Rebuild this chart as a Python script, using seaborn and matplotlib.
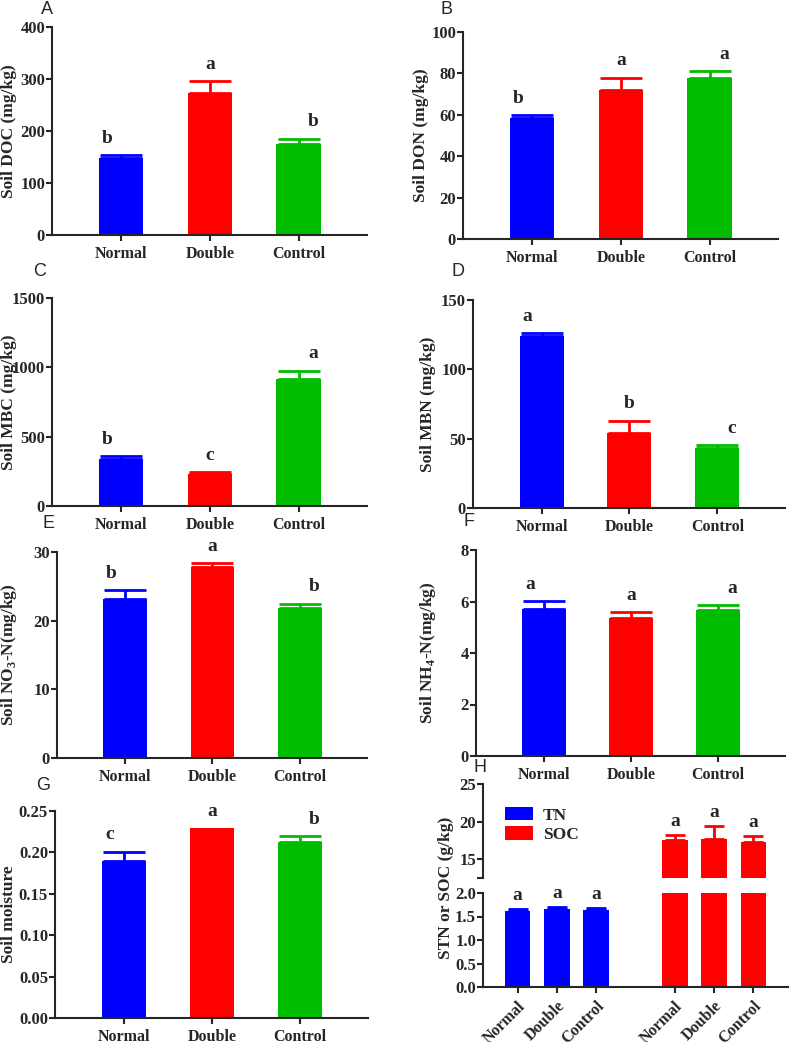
import seaborn as sns
import pandas as pd
import matplotlib.pyplot as plt
from matplotlib.ticker import FormatStrFormatter

# data (mean, upper error)
treatments = ["Normal", "Double", "Control"]
colors = ["#0000FF", "#FF0000", "#00BD00"]

doc_mean = [148, 273, 175]
doc_err = [5, 23, 10]
doc_letters = ["b", "a", "b"]

don_mean = [58.5, 72, 78]
don_err = [1.5, 6, 3]
don_letters = ["b", "a", "a"]

mbc_mean = [338, 229, 913]
mbc_err = [20, 13, 62]
mbc_letters = ["b", "c", "a"]

mbn_mean = [123.8, 54.2, 43.4]
mbn_err = [2.4, 8.9, 1.7]
mbn_letters = ["a", "b", "c"]

no3_mean = [23.2, 27.8, 21.8]
no3_err = [1.2, 0.55, 0.7]
no3_letters = ["b", "a", "b"]

nh4_mean = [5.70, 5.36, 5.66]
nh4_err = [0.32, 0.23, 0.19]
nh4_letters = ["a", "a", "a"]

moist_mean = [0.190, 0.2295, 0.213]
moist_err = [0.011, 0.0, 0.0065]
moist_letters = ["c", "a", "b"]

tn_mean = [1.62, 1.66, 1.64]
tn_err = [0.05, 0.05, 0.05]
soc_mean = [17.5, 17.7, 17.3]
soc_err = [0.7, 1.7, 0.75]
h_letters = ["a", "a", "a"]

sns.set_style("ticks")
plt.rcParams["font.family"] = ["Liberation Serif", "DejaVu Serif"]
plt.rcParams["font.weight"] = "bold"
plt.rcParams["axes.labelweight"] = "bold"
plt.rcParams["axes.linewidth"] = 1.5
plt.rcParams["xtick.major.width"] = 1.5
plt.rcParams["ytick.major.width"] = 1.5
plt.rcParams["xtick.major.size"] = 4
plt.rcParams["ytick.major.size"] = 4
plt.rcParams["ytick.major.pad"] = 1
plt.rcParams["xtick.major.pad"] = 4
plt.rcParams["xtick.labelsize"] = 11.5
plt.rcParams["ytick.labelsize"] = 12
plt.rcParams["mathtext.fontset"] = "custom"
plt.rcParams["mathtext.rm"] = "Liberation Serif:bold"

fig = plt.figure(figsize=(7.9, 10.42), dpi=100)
W, H = 790, 1042


def rect(l, t, r, b):
    return [l / W, 1 - b / H, (r - l) / W, (b - t) / H]


letter_dx = [-0.16, 0, 0.16]


def bar_panel(box, label_x, mean, err, letters, ymax, ystep, ylabel, fmt=None):
    ax = fig.add_axes(rect(*box))
    df = pd.DataFrame({"Treatment": treatments, "value": mean})
    sns.barplot(data=df, x="Treatment", y="value", hue="Treatment", order=treatments,
                palette=colors, width=0.5, saturation=1, errorbar=None, legend=False,
                linewidth=0, ax=ax)
    for i in range(3):
        if err[i] > 0:
            ax.errorbar(i, mean[i], yerr=[[0], [err[i]]], fmt="none", ecolor=colors[i],
                        elinewidth=2, capsize=15, capthick=2)
        ax.text(i + letter_dx[i], mean[i] + err[i] + 0.04 * ymax, letters[i],
                ha="center", va="bottom", fontsize=14, fontweight="bold")
    ax.set_xlim(-0.78, 2.77)
    ax.set_ylim(0, ymax)
    ax.set_yticks([ystep * k for k in range(int(round(ymax / ystep)) + 1)])
    if fmt:
        ax.yaxis.set_major_formatter(FormatStrFormatter(fmt))
    ax.set_xlabel("")
    ax.set_ylabel(ylabel, fontsize=12.5)
    ax.yaxis.label.set_va("center")
    ax.yaxis.set_label_coords((label_x - box[0]) / (box[2] - box[0]), 0.5)
    sns.despine(ax=ax)
    return ax


bar_panel((52, 27, 367, 235), 9, doc_mean, doc_err, doc_letters, 400, 100,
          "Soil DOC (mg/kg)")
bar_panel((463, 32, 778, 239), 421, don_mean, don_err, don_letters, 100, 20,
          "Soil DON (mg/kg)")
bar_panel((52, 298, 367, 506), 9, mbc_mean, mbc_err, mbc_letters, 1500, 500,
          "Soil MBC (mg/kg)")
bar_panel((473, 300, 785, 508), 428, mbn_mean, mbn_err, mbn_letters, 150, 50,
          "Soil MBN (mg/kg)")
bar_panel((57, 552, 367, 758), 9, no3_mean, no3_err, no3_letters, 30, 10,
          "Soil NO$_\\mathrm{3}$-N(mg/kg)")
bar_panel((476, 550, 785, 756), 428, nh4_mean, nh4_err, nh4_letters, 8, 2,
          "Soil NH$_\\mathrm{4}$-N(mg/kg)")
bar_panel((55, 811, 368, 1018), 9, moist_mean, moist_err, moist_letters, 0.25, 0.05,
          "Soil moisture", fmt="%.2f")

# panel H: broken axis
h_df = pd.DataFrame({
    "Bar": ["TN " + t for t in treatments] + ["SOC " + t for t in treatments],
    "Variable": ["TN"] * 3 + ["SOC"] * 3,
    "value": tn_mean + soc_mean,
})
h_order = ["TN " + t for t in treatments] + ["gap"] + ["SOC " + t for t in treatments]
h_pal = {"TN": "#0000FF", "SOC": "#FF0000"}
h_err = tn_err + soc_err
h_pos = [0, 1, 2, 4, 5, 6]

ax_lo = fig.add_axes(rect(483, 893, 788, 987))
ax_hi = fig.add_axes(rect(483, 784, 788, 878))
for ax in (ax_lo, ax_hi):
    sns.barplot(data=h_df, x="Bar", y="value", hue="Variable", order=h_order,
                hue_order=["TN", "SOC"], palette=h_pal, dodge=False, width=0.65,
                saturation=1, errorbar=None, linewidth=0, ax=ax)
    for j, p in enumerate(h_pos):
        c = h_pal["TN"] if j < 3 else h_pal["SOC"]
        ax.errorbar(p, h_df["value"][j], yerr=[[0], [h_err[j]]], fmt="none", ecolor=c,
                    elinewidth=2, capsize=7, capthick=2)
    ax.set_xlim(-0.88, 6.88)
    ax.set_xlabel("")
    ax.set_ylabel("")

ax_lo.set_ylim(0, 2)
ax_lo.set_yticks([0, 0.5, 1.0, 1.5, 2.0])
ax_lo.yaxis.set_major_formatter(FormatStrFormatter("%.1f"))
ax_lo.set_xticks(h_pos)
ax_lo.set_xticklabels(treatments * 2, rotation=45, ha="right", rotation_mode="anchor",
                      fontsize=11.5)
ax_lo.get_legend().remove()
for j in range(3):
    ax_lo.text(h_pos[j], tn_mean[j] + tn_err[j] + 0.1, h_letters[j], ha="center",
               va="bottom", fontsize=14, fontweight="bold")
sns.despine(ax=ax_lo)

ax_hi.set_ylim(12.5, 25)
ax_hi.set_yticks([12.5, 15, 20, 25])
ax_hi.set_yticklabels(["", "15", "20", "25"])
ax_hi.set_xticks([])
for j in range(3):
    ax_hi.text(h_pos[j + 3], soc_mean[j] + soc_err[j] + 0.7, h_letters[j], ha="center",
               va="bottom", fontsize=14, fontweight="bold")
sns.despine(ax=ax_hi, bottom=True)
sns.move_legend(ax_hi, "upper left", bbox_to_anchor=(0.02, 0.92), frameon=False,
                title=None, fontsize=12.5, handlelength=1.6, handleheight=0.8,
                labelspacing=0.15, handletextpad=0.6)

fig.text(446 / W, 1 - 888 / H, "STN or SOC (g/kg)", rotation=90, ha="center",
         va="center", fontsize=12.5, fontweight="bold")

# panel letters
panel_labels = ["A", "B", "C", "D", "E", "F", "G", "H"]
label_xy = [(47, 9), (447, 9), (40, 271), (458, 271), (49, 524), (469, 522),
            (43, 786), (480, 768)]
for lab, (x, y) in zip(panel_labels, label_xy):
    fig.text(x / W, 1 - y / H, lab, ha="center", va="center", fontsize=13,
             family="Liberation Sans", fontweight="normal")

fig.savefig("out.png", dpi=100)
